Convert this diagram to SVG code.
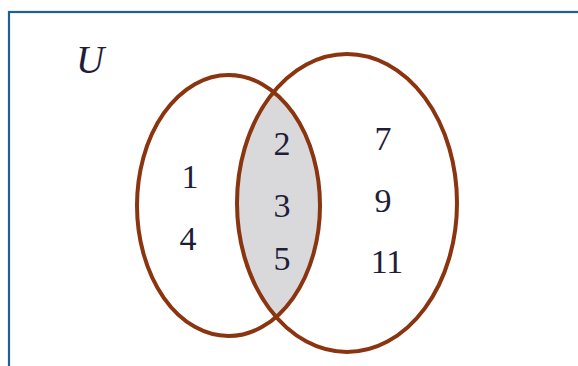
<svg xmlns="http://www.w3.org/2000/svg" width="578" height="366" viewBox="0 0 578 366">
<style>
.set{fill:none;stroke:#8a3510;stroke-width:4}
.num{font-family:"Liberation Serif",serif;font-size:34px;fill:#1e1e38;text-anchor:middle}
</style>
<defs>
<clipPath id="clipA"><ellipse cx="228.5" cy="205.5" rx="91.5" ry="130.5"/></clipPath>
</defs>
<rect width="578" height="366" fill="#fff"/>
<g id="universe">
<rect x="9" y="12" width="620" height="420" fill="none" stroke="#1f5f95" stroke-width="2.2"/>
<text x="90" y="73" font-family="Liberation Serif,serif" font-style="italic" font-size="39" fill="#1e1e38" text-anchor="middle">U</text>
</g>
<g id="intersection">
<ellipse cx="347" cy="203" rx="110" ry="149" fill="#d9d9dc" clip-path="url(#clipA)"/>
</g>
<g id="setA">
<ellipse class="set" cx="228.5" cy="205.5" rx="91.5" ry="130.5"/>
<text class="num" x="190" y="188">1</text>
<text class="num" x="188" y="250">4</text>
</g>
<g id="setB">
<ellipse class="set" cx="347" cy="203" rx="110" ry="149"/>
<text class="num" x="383" y="150">7</text>
<text class="num" x="383" y="212">9</text>
<text class="num" x="387" y="273">11</text>
</g>
<g id="common">
<text class="num" x="282" y="155">2</text>
<text class="num" x="282" y="217">3</text>
<text class="num" x="282" y="270">5</text>
</g>
<g id="connectors"></g>
</svg>
